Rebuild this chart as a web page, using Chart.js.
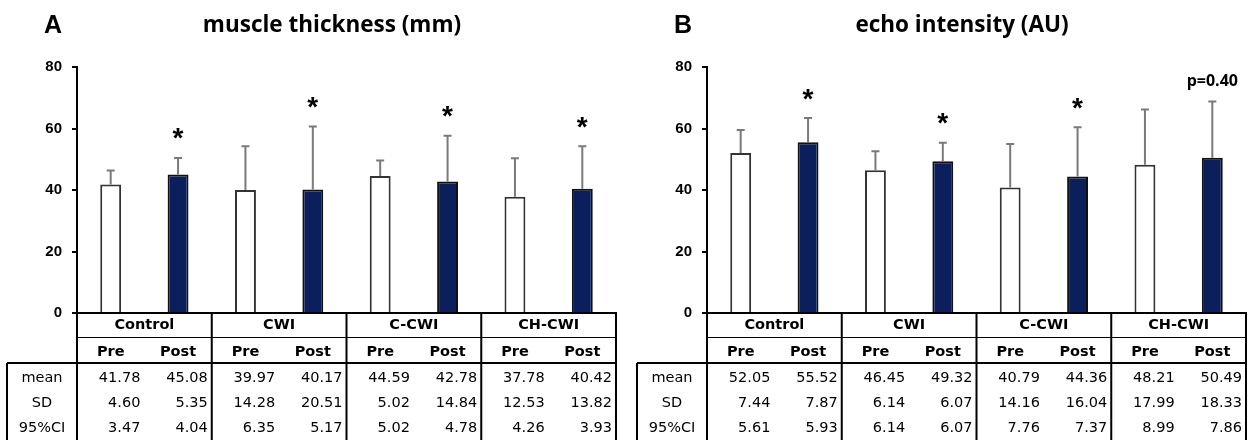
<!DOCTYPE html>
<html>
  <head>
    <title>muscle thickness / echo intensity</title>
    <script src="https://cdn.jsdelivr.net/npm/chart.js"></script>
    <style>
      body {
        margin: 0;
        background-color: white;
        overflow: hidden;
      }
      .panels {
        display: flex;
        width: 1259px;
        height: 440px;
      }
      canvas {
        display: block;
      }
    </style>
  </head>
  <body>
    <div class="panels">
      <canvas id="thickChart" width="630" height="440"></canvas>
      <canvas id="echoChart" width="629" height="440"></canvas>
    </div>

    <script>
      const groups = ["Control", "CWI", "C-CWI", "CH-CWI"];
      const phases = ["Pre", "Post"];
      const rowLabels = ["mean", "SD", "95%CI"];
      const yTicks = [0, 20, 40, 60, 80];

      // A: muscle thickness (mm)
      const thickPre = [41.78, 39.97, 44.59, 37.78];
      const thickPost = [45.08, 40.17, 42.78, 40.42];
      const thickPreSD = [4.6, 14.28, 5.02, 12.53];
      const thickPostSD = [5.35, 20.51, 14.84, 13.82];
      const thickPreCI = [3.47, 6.35, 5.02, 4.26];
      const thickPostCI = [4.04, 5.17, 4.78, 3.93];
      const thickMarks = ["*", "*", "*", "*"];

      // B: echo intensity (AU)
      const echoPre = [52.05, 46.45, 40.79, 48.21];
      const echoPost = [55.52, 49.32, 44.36, 50.49];
      const echoPreSD = [7.44, 6.14, 14.16, 17.99];
      const echoPostSD = [7.87, 6.07, 16.04, 18.33];
      const echoPreCI = [5.61, 6.14, 7.76, 8.99];
      const echoPostCI = [5.93, 6.07, 7.37, 7.86];
      const echoMarks = ["*", "*", "*", "p=0.40"];

      const navy = "#0a1f5c";
      const tableFont = '"DejaVu Sans", Verdana, sans-serif';

      // title, error bars, significance marks and the table under the axis
      const panelDecor = {
        id: "panelDecor",
        afterDraw(chart, args, opts) {
          const ctx = chart.ctx;
          const area = chart.chartArea;
          const xs = chart.scales.x;
          const ys = chart.scales.y;
          ctx.save();

          // titles
          ctx.fillStyle = "#000";
          ctx.textBaseline = "alphabetic";
          ctx.textAlign = "left";
          ctx.font = 'bold 25px "Liberation Sans", Arial, sans-serif';
          ctx.fillText(opts.letter, 44, 33);
          ctx.textAlign = "center";
          ctx.font = 'bold 22.5px "Open Sans", sans-serif';
          ctx.fillText(opts.title, 332, 32);

          // error bars (mean + SD)
          ctx.strokeStyle = "#7a7a7a";
          ctx.lineWidth = 2;
          opts.sd.forEach((sds, d) => {
            const meta = chart.getDatasetMeta(d);
            meta.data.forEach((bar, i) => {
              const val = chart.data.datasets[d].data[i];
              const top = ys.getPixelForValue(val + sds[i]);
              ctx.beginPath();
              ctx.moveTo(bar.x, bar.y);
              ctx.lineTo(bar.x, top);
              ctx.moveTo(bar.x - 4, top);
              ctx.lineTo(bar.x + 4, top);
              ctx.stroke();
            });
          });

          // marks above Post bars
          const postMeta = chart.getDatasetMeta(1);
          ctx.fillStyle = "#000";
          ctx.textAlign = "center";
          opts.marks.forEach((m, i) => {
            if (!m) return;
            const bar = postMeta.data[i];
            const val = chart.data.datasets[1].data[i];
            const top = ys.getPixelForValue(val + opts.sd[1][i]);
            if (m === "*") {
              ctx.font = 'bold 28px "Liberation Sans", Arial, sans-serif';
              const tm = ctx.measureText(m);
              const yc = top - 24;
              const base = yc + (tm.actualBoundingBoxAscent - tm.actualBoundingBoxDescent) / 2;
              ctx.fillText(m, bar.x, base);
            } else {
              ctx.font = 'bold 16px "Open Sans", sans-serif';
              ctx.fillText(m, bar.x, top - 15);
            }
          });

          // table
          const step = xs.getPixelForValue(1) - xs.getPixelForValue(0);
          const left = area.left;
          const right = area.right;
          const y0 = area.bottom;
          const ySub = y0 + 24;
          const yData = y0 + 50;
          const yEnd = chart.height + 2;
          const labLeft = left - 70;

          ctx.strokeStyle = "#000";
          ctx.lineWidth = 2;
          ctx.beginPath();
          ctx.moveTo(left - 1, y0);
          ctx.lineTo(right + 1, y0);
          ctx.moveTo(labLeft, yData);
          ctx.lineTo(right + 1, yData);
          ctx.moveTo(left, y0);
          ctx.lineTo(left, yEnd);
          ctx.moveTo(labLeft, yData);
          ctx.lineTo(labLeft, yEnd);
          for (let g = 1; g <= groups.length; g++) {
            const gx = left + g * step;
            ctx.moveTo(gx, y0);
            ctx.lineTo(gx, yEnd);
          }
          ctx.stroke();
          ctx.lineWidth = 1;
          ctx.beginPath();
          ctx.moveTo(left, ySub + 0.5);
          ctx.lineTo(right, ySub + 0.5);
          ctx.stroke();

          ctx.textBaseline = "middle";
          ctx.textAlign = "center";
          ctx.font = "bold 14.5px " + tableFont;
          groups.forEach((g, i) => {
            const gc = xs.getPixelForValue(i);
            ctx.fillText(g, gc, y0 + 12);
            phases.forEach((p, d) => {
              const bar = chart.getDatasetMeta(d).data[i];
              ctx.fillText(p, bar.x, ySub + 15);
            });
          });

          ctx.font = "14.5px " + tableFont;
          const rows = [
            chart.data.datasets.map((ds) => ds.data),
            opts.sd,
            opts.ci,
          ];
          rowLabels.forEach((lab, r) => {
            const yc = yData + 15 + r * 25;
            ctx.textAlign = "center";
            ctx.fillText(lab, labLeft + 35, yc);
            ctx.textAlign = "right";
            groups.forEach((g, i) => {
              const gl = left + i * step;
              rows[r].forEach((vals, d) => {
                const cellRight = gl + (d + 1) * (step / 2);
                ctx.fillText(vals[i].toFixed(2), cellRight - 4, yc);
              });
            });
          });

          ctx.restore();
        },
      };

      function makePanel(id, letter, title, pre, post, preSD, postSD, preCI, postCI, marks) {
        const canvas = document.getElementById(id);
        return new Chart(canvas.getContext("2d"), {
          type: "bar",
          data: {
            labels: groups,
            datasets: [
              {
                label: phases[0],
                data: pre,
                backgroundColor: "#ffffff",
                borderColor: "#333333",
                borderWidth: 2,
              },
              {
                label: phases[1],
                data: post,
                backgroundColor: navy,
                borderColor: "#111111",
                borderWidth: 2,
              },
            ],
          },
          options: {
            responsive: false,
            animation: false,
            barPercentage: 0.31,
            categoryPercentage: 1.0,
            layout: {
              padding: { top: 67, bottom: 127, left: 0, right: canvas.width - 616 },
            },
            scales: {
              x: { display: false },
              y: {
                min: 0,
                max: 80,
                afterBuildTicks: (scale) => {
                  scale.ticks = yTicks.map((v) => ({ value: v }));
                },
                afterFit: (scale) => {
                  scale.width = 77;
                },
                border: { display: true, color: "#000", width: 2 },
                grid: {
                  drawOnChartArea: false,
                  drawTicks: true,
                  tickLength: 5,
                  color: "#000",
                  lineWidth: 2,
                },
                ticks: {
                  padding: 10,
                  color: "#000",
                  font: { family: '"Liberation Sans", Arial, sans-serif', size: 15, weight: "bold" },
                },
              },
            },
            plugins: {
              legend: { display: false },
              tooltip: { enabled: false },
              panelDecor: {
                letter: letter,
                title: title,
                sd: [preSD, postSD],
                ci: [preCI, postCI],
                marks: marks,
              },
            },
          },
          plugins: [panelDecor],
        });
      }

      makePanel("thickChart", "A", "muscle thickness (mm)", thickPre, thickPost,
        thickPreSD, thickPostSD, thickPreCI, thickPostCI, thickMarks);
      makePanel("echoChart", "B", "echo intensity (AU)", echoPre, echoPost,
        echoPreSD, echoPostSD, echoPreCI, echoPostCI, echoMarks);
    </script>
  </body>
</html>
